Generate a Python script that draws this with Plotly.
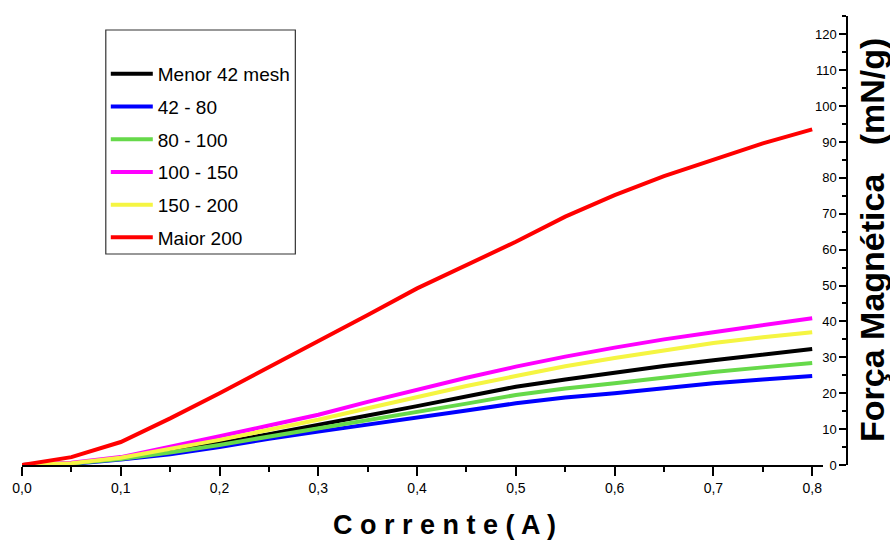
import plotly.graph_objects as go

corrente = [0.0, 0.05, 0.1, 0.15, 0.2, 0.25, 0.3, 0.35, 0.4, 0.45, 0.5, 0.55, 0.6, 0.65, 0.7, 0.75, 0.8]

menor_42 = [0, 0.4, 1.8, 3.9, 6.1, 8.6, 11.1, 13.8, 16.4, 19.2, 21.8, 23.8, 25.7, 27.6, 29.2, 30.8, 32.3]
m42_80 = [0, 0.3, 1.5, 3.0, 5.0, 7.3, 9.3, 11.2, 13.1, 15.2, 17.2, 18.8, 20.0, 21.5, 22.8, 23.8, 24.8]
m80_100 = [0, 0.4, 1.7, 3.5, 5.6, 7.9, 10.2, 12.4, 14.6, 17.1, 19.5, 21.3, 22.8, 24.4, 25.9, 27.2, 28.4]
m100_150 = [0, 0.6, 2.2, 5.0, 8.0, 11.0, 14.0, 17.6, 21.0, 24.3, 27.4, 30.2, 32.7, 35.0, 37.0, 39.0, 40.9]
m150_200 = [0, 0.5, 2.0, 4.4, 7.0, 9.8, 12.6, 15.8, 19.0, 22.0, 24.8, 27.5, 29.8, 32.0, 34.0, 35.6, 37.0]
maior_200 = [0, 2.2, 6.4, 13.0, 20.0, 27.2, 34.5, 41.8, 49.2, 55.8, 62.2, 69.2, 75.2, 80.5, 85.1, 89.6, 93.5]

series = [
    ("Menor 42 mesh", menor_42, "#000000"),
    ("42 - 80", m42_80, "#0000FF"),
    ("80 - 100", m80_100, "#66D94A"),
    ("100 - 150", m100_150, "#FF00FF"),
    ("150 - 200", m150_200, "#F5F542"),
    ("Maior 200", maior_200, "#FF0000"),
]

x_ticks = [0.0, 0.1, 0.2, 0.3, 0.4, 0.5, 0.6, 0.7, 0.8]
y_ticks = list(range(0, 121, 10))

fig = go.Figure()
for i, (name, vals, col) in enumerate(series):
    fig.add_trace(go.Scatter(x=corrente, y=vals, name=name, mode="lines",
                             legendgroup="g%d" % i,
                             line=dict(color=col, width=4)))

W, H = 890, 546
L, R, T, B = 20, 43, 16, 81
pw = W - L - R
ph = H - T - B

def px(xp):
    return (xp - L) / pw

def py(yp):
    return (H - B - yp) / ph

font = "Liberation Sans, Arial"

fig.update_layout(
    width=W, height=H,
    margin=dict(l=L, r=R, t=T, b=B),
    paper_bgcolor="white", plot_bgcolor="white",
    separators=",.",
    showlegend=True,
    legend=dict(x=px(104), y=py(55), xanchor="left", yanchor="top",
                bgcolor="rgba(0,0,0,0)", borderwidth=0,
                font=dict(family=font, size=19, color="#000000"),
                itemwidth=42, tracegroupgap=5),
    xaxis=dict(domain=[0, (823 - L) / pw], range=[0, 0.811],
               tickvals=x_ticks, tickformat=".1f",
               showline=True, linecolor="#000000", linewidth=1.5,
               ticks="outside", ticklen=9, tickwidth=1.5, tickcolor="#000000",
               minor=dict(dtick=0.05, tick0=0, ticks="outside", ticklen=5,
                          tickwidth=1.5, tickcolor="#000000"),
               showgrid=False, zeroline=False,
               tickfont=dict(family=font, size=14, color="#000000")),
    yaxis=dict(range=[0, 125.1], anchor="free", position=1.0, side="left",
               tickvals=y_ticks,
               showline=True, linecolor="#000000", linewidth=1.5,
               ticks="outside", ticklen=7, tickwidth=1.5, tickcolor="#000000",
               minor=dict(dtick=5, tick0=0, ticks="outside", ticklen=4,
                          tickwidth=1.5, tickcolor="#000000"),
               showgrid=False, zeroline=False,
               tickfont=dict(family=font, size=13, color="#000000")),
    shapes=[dict(type="rect", xref="paper", yref="paper",
                 x0=px(104), x1=px(294), y0=py(254), y1=py(30),
                 line=dict(color="#333333", width=1.2), fillcolor="rgba(0,0,0,0)")],
    annotations=[
        dict(text="C o r r e n t e ( A )", xref="paper", yref="paper",
             x=px(444), y=py(525), xanchor="center", yanchor="middle",
             showarrow=False,
             font=dict(family=font, size=27, color="#000000", weight="bold")),
        dict(text="Força Magnética&nbsp;&nbsp;&nbsp;(mN/g)", xref="paper", yref="paper",
             x=px(872), y=py(240), xanchor="center", yanchor="middle",
             textangle=-90, showarrow=False,
             font=dict(family=font, size=34, color="#000000", weight="bold")),
    ],
)

fig.write_html("out.html")
